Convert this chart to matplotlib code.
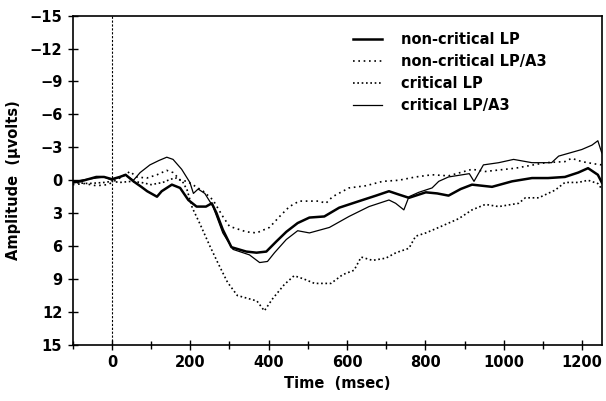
import matplotlib
matplotlib.use('Agg')
import matplotlib.pyplot as plt
from matplotlib.ticker import MultipleLocator

# non-critical LP (thick solid)
t_nc_lp = [-100, -80, -60, -40, -20, 0, 20, 35, 55, 75, 90, 115, 127, 153, 174, 195, 216, 240, 255, 267,
           283, 305, 343, 369, 394, 419, 445, 474, 504, 542, 580, 631, 674, 707, 732, 758, 801, 830, 859,
           890, 919, 970, 1021, 1072, 1113, 1156, 1190, 1215, 1240, 1250]
a_nc_lp = [0.2, 0.1, -0.1, -0.3, -0.3, -0.1, -0.3, -0.5, 0.1, 0.6, 1.0, 1.5, 1.0, 0.4, 0.7, 1.8, 2.4, 2.4, 2.1, 3.0,
           4.5, 6.1, 6.5, 6.6, 6.5, 5.6, 4.7, 3.9, 3.4, 3.3, 2.5, 1.9, 1.4, 1.0, 1.3, 1.6, 1.1, 1.2, 1.4,
           0.8, 0.4, 0.6, 0.1, -0.2, -0.2, -0.3, -0.7, -1.1, -0.5, 0.2]

# non-critical LP/A3 (dotted, upper)
t_nc_a3 = [-100, -70, -40, -10, 10, 30, 46, 63, 89, 115, 140, 156, 175, 192, 215, 233, 258, 283, 300, 343,
           369, 402, 428, 453, 478, 529, 546, 563, 605, 648, 691, 732, 775, 817, 859, 919, 953, 1030, 1106,
           1156, 1173, 1199, 1230, 1250]
a_nc_a3 = [0.4, 0.3, 0.5, 0.4, 0.0, -0.4, -0.8, -0.3, -0.2, -0.5, -0.9, -0.7, 0.0, 0.1, 0.6, 1.0, 1.8, 3.3, 4.2, 4.7,
           4.8, 4.3, 3.3, 2.4, 1.9, 1.9, 2.1, 1.5, 0.7, 0.5, 0.1, 0.0, -0.3, -0.5, -0.4, -1.0, -0.8, -1.1, -1.6,
           -1.7, -2.0, -1.7, -1.5, -1.4]

# critical LP (dotted, lower)
t_c_lp = [-100, -60, -20, 0, 20, 50, 75, 100, 130, 150, 165, 180, 192, 205, 225, 250, 270, 295, 320, 350,
          370, 389, 410, 440, 465, 490, 517, 559, 589, 618, 636, 665, 699, 725, 758, 775, 801, 834, 885,
          919, 953, 987, 1038, 1055, 1089, 1131, 1156, 1190, 1215, 1240, 1250]
a_c_lp = [0.2, 0.3, 0.2, 0.1, 0.2, 0.1, 0.2, 0.4, 0.2, -0.1, -0.2, 0.1, 0.9, 2.5, 4.0, 6.0, 7.5, 9.3, 10.5, 10.8,
          11.0, 11.9, 10.8, 9.5, 8.7, 9.0, 9.4, 9.4, 8.6, 8.2, 7.0, 7.3, 7.1, 6.6, 6.2, 5.1, 4.8, 4.3, 3.5,
          2.7, 2.2, 2.4, 2.1, 1.6, 1.6, 0.9, 0.2, 0.2, 0.0, 0.3, 0.8]

# critical LP/A3 (thin solid)
t_c_a3 = [-100, -60, -20, 0, 21, 34, 55, 72, 97, 120, 140, 156, 178, 199, 208, 220, 237, 258, 283, 309,
          351, 377, 397, 415, 445, 474, 504, 555, 605, 656, 707, 724, 745, 758, 783, 817, 834, 859, 912,
          924, 948, 987, 1025, 1072, 1122, 1140, 1199, 1225, 1240, 1250]
a_c_a3 = [0.1, -0.1, -0.3, 0.0, -0.3, -0.5, 0.0, -0.7, -1.4, -1.8, -2.1, -1.9, -1.0, 0.2, 1.2, 0.8, 1.2, 2.4, 4.8, 6.3,
          6.8, 7.5, 7.4, 6.6, 5.4, 4.6, 4.8, 4.3, 3.3, 2.4, 1.8, 2.1, 2.7, 1.5, 1.1, 0.7, 0.1, -0.3, -0.6,
          0.1, -1.4, -1.6, -1.9, -1.6, -1.6, -2.2, -2.8, -3.2, -3.6, -2.5]

y_ticks = [-15, -12, -9, -6, -3, 0, 3, 6, 9, 12, 15]
x_ticks = [0, 200, 400, 600, 800, 1000, 1200]

plt.rcParams['font.family'] = 'DejaVu Sans'
plt.rcParams['font.weight'] = 'bold'

fig = plt.figure(figsize=(6.06, 4.01), dpi=100)
ax = fig.add_axes([0.12, 0.14, 0.873, 0.821])

ax.plot(t_nc_lp, a_nc_lp, color='black', lw=1.8, label='non-critical LP')
ax.plot(t_nc_a3, a_nc_a3, color='black', lw=1.2, ls=(0, (1, 2.2)), label='non-critical LP/A3')
ax.plot(t_c_lp, a_c_lp, color='black', lw=1.2, ls=(0, (1, 1.6)), label='critical LP')
ax.plot(t_c_a3, a_c_a3, color='black', lw=0.9, label='critical LP/A3')

ax.axvline(0, color='black', lw=0.8, ls=(0, (2, 1.5)))

ax.set_xlim(-100, 1250)
ax.set_ylim(15, -15)  # negative up
ax.set_xticks(x_ticks)
ax.xaxis.set_minor_locator(MultipleLocator(100))
ax.set_yticks(y_ticks)
ax.set_yticklabels(['\u2212' + str(-v) if v < 0 else str(v) for v in y_ticks])

ax.tick_params(which='both', direction='inout', length=7, width=1.0, labelsize=10.5, pad=4)
ax.tick_params(which='minor', length=6)
for s in ax.spines.values():
    s.set_linewidth(1.2)

ax.set_xlabel('Time  (msec)', fontsize=10.5, fontweight='bold', labelpad=4)
ax.set_ylabel('Amplitude  (\u03bcvolts)', fontsize=10.5, fontweight='bold', labelpad=6)

leg = ax.legend(loc='upper left', bbox_to_anchor=(0.505, 0.99), frameon=False, fontsize=10.5,
                handlelength=2.0, handletextpad=1.3, labelspacing=0.47)

fig.savefig('out.png', dpi=100)
